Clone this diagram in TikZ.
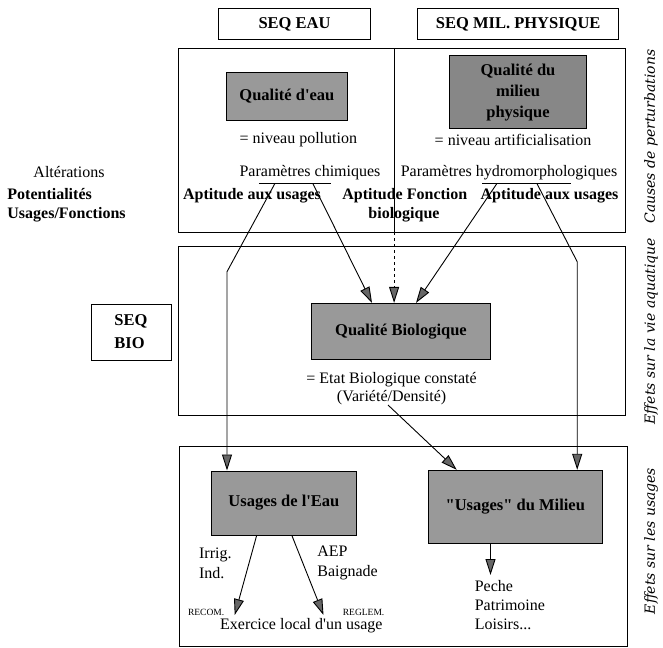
\documentclass[tikz,border=0pt]{standalone}
\usepackage{fontspec}
\setmainfont{Liberation Serif}[Ligatures=TeXOff]
\newfontfamily\sidefont{DejaVu Serif}
\usetikzlibrary{arrows.meta,positioning}

\begin{document}
\begin{tikzpicture}[x=1pt, y=-1pt, line width=0.8pt,
  every node/.style={font=\fontsize{16}{19}\selectfont, inner sep=0pt},
  seqbox/.style={draw, font=\fontsize{16.5}{23}\selectfont\bfseries, align=center},
  qualbox/.style={draw, fill=black!40, font=\fontsize{16.5}{21}\selectfont\bfseries, align=center},
  gras/.style={font=\fontsize{16}{19}\selectfont\bfseries},
  mini/.style={font=\fontsize{9.5}{11}\selectfont},
  liste/.style={align=left, anchor=west, font=\fontsize{16}{20}\selectfont},
  cote/.style={font=\fontsize{14}{16}\selectfont\sidefont\itshape, rotate=90},
  fleche/.style={line width=0.9pt, -{Triangle[length=16pt,width=10pt,fill=black!60]}}]
\useasboundingbox (0,0) rectangle (663,647);
% titres SEQ
\node[seqbox, minimum width=152pt, minimum height=31pt] (seqEau) at (294.5,24) {SEQ EAU};
\node[seqbox, minimum width=201pt, minimum height=31pt] (seqMil) at (518.2,24) {SEQ MIL. PHYSIQUE};
% causes de perturbations
\draw (178.4,48.7) rectangle (625.8,232);
\draw (394.1,48.7) -- (394.1,232);
\coordinate (divB) at (394.1,232);
\node[qualbox, minimum width=121pt, minimum height=48pt] (qEau) at (286.9,96.2) {Qualité d'eau};
\node[qualbox, fill=black!47, minimum width=137pt, minimum height=73pt] (qMil) at (518,92.4) {Qualité du\\milieu\\physique};
\node (nivPol) at (298.3,140) {= niveau pollution};
\node (nivArt) at (513,140) {= niveau artificialisation};
\node (parChim) at (310,172.3) {Paramètres chimiques};
\node (parHydro) at (509,172.3) {Paramètres hydromorphologiques};
\draw (258.8,183.7) -- (331,183.7);
\draw (482,183.7) -- (570.8,183.7);
\coordinate (chimA) at (274.8,183.7);
\coordinate (chimB) at (312.9,183.7);
\coordinate (hydA) at (496.8,183.7);
\coordinate (hydB) at (537,183.7);
\node[gras] (aptEau) at (252,195.7) {Aptitude aux usages};
\node[gras, anchor=west] (aptBio) at (342,195.7) {Aptitude Fonction};
\node[gras] (aptBio2) at (404,214.7) {biologique};
\node[gras] (aptMil) at (549.5,195.7) {Aptitude aux usages};
% legende gauche
\node (alter) at (69,171.7) {Altérations};
\node[gras, align=left, anchor=west] (potent) at (7,205) {Potentialités\\Usages/Fonctions};
% vie aquatique
\draw (178.4,246.7) rectangle (625.8,415);
\node[seqbox, align=left, minimum width=80pt, minimum height=56pt] (seqBio) at (131,332) {SEQ\\BIO};
\node[qualbox, minimum width=179pt, minimum height=56pt] (bio) at (401,331.3) {Qualité Biologique};
\node[align=center, font=\fontsize{16}{18}\selectfont] (etat) at (391.6,388.3) {= Etat Biologique constaté\\(Variété/Densité)};
\coordinate (etatB) at (388,405);
% usages
\draw (179.7,446) rectangle (627,646);
\node[qualbox, minimum width=145pt, minimum height=64pt] (usEau) at (283.9,502.9) {Usages de l'Eau};
\node[qualbox, minimum width=174.5pt, minimum height=73pt] (usMil) at (515.3,506.7) {"Usages" du Milieu};
\node[liste] (irrig) at (198.7,563.3) {Irrig.\\Ind.};
\node[liste] (aep) at (317,563.3) {AEP\\Baignade};
\node[mini] (recom) at (206.1,612.7) {RECOM.};
\node[mini] (reglem) at (363.6,612.7) {REGLEM.};
\node (exer) at (301.3,626) {Exercice local d'un usage};
\node[liste, font=\fontsize{16}{19}\selectfont] (peche) at (474.4,605) {Peche\\Patrimoine\\Loisirs...};
\coordinate (finA) at (234.7,615);
\coordinate (finB) at (323.5,615);
\coordinate (finC) at (490.5,575);
% titres de cote
\node[cote] (causes) at (651,136.5) {Causes de perturbations};
\node[cote] (vie) at (651,331) {Effets sur la vie aquatique};
\node[cote] (effUs) at (651,541) {Effets sur les usages};
% fleches
\coordinate (coudeA) at (227,271.7);
\coordinate (coudeB) at (577.2,261.7);
\draw[fleche] (chimA) -- (coudeA) -- (coudeA |- usEau.north);
\draw[fleche] (chimB) -- ([xshift=-29pt]bio.north);
\draw[fleche, dashed] (divB) -- (divB |- bio.north);
\draw[fleche] (hydA) -- ([xshift=15pt]bio.north);
\draw[fleche] (hydB) -- (coudeB) -- (coudeB |- usMil.north);
\draw[fleche] (etatB) -- ([xshift=-58.6pt]usMil.north);
\draw[fleche] ([xshift=-27.2pt]usEau.south) -- (finA);
\draw[fleche] ([xshift=7.9pt]usEau.south) -- (finB);
\draw[fleche] ([xshift=-24.8pt]usMil.south) -- (finC);
\end{tikzpicture}
\end{document}
